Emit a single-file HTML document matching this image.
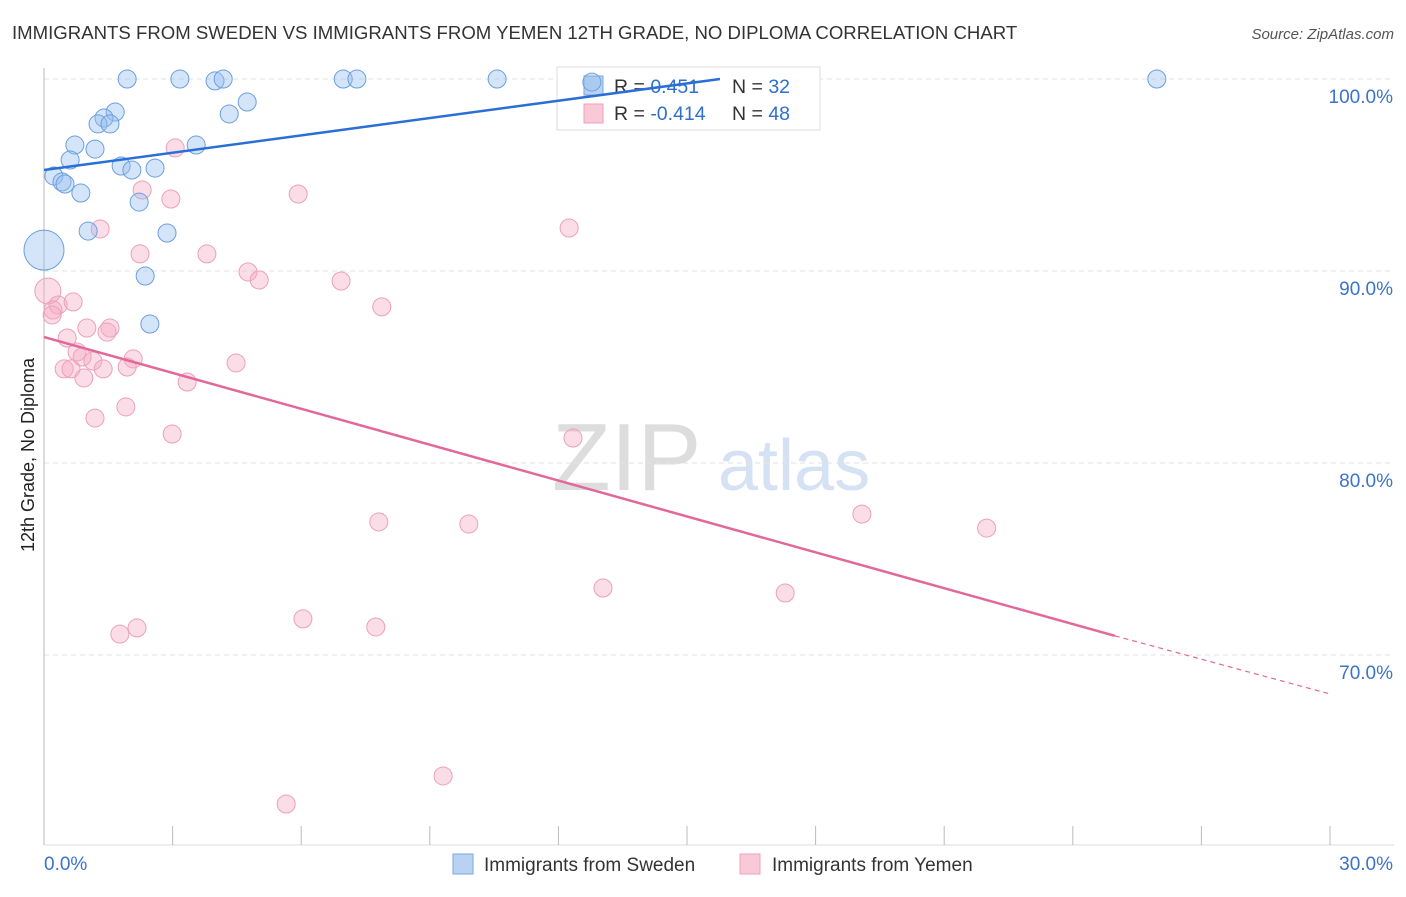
<!DOCTYPE html>
<html><head><meta charset="utf-8"><style>
body{margin:0;background:#fff;font-family:"Liberation Sans",sans-serif}
svg text{font-family:"Liberation Sans",sans-serif}
</style></head><body>
<svg id="c" width="1406" height="892">
<text x="12" y="39" font-size="18.6" fill="#333">IMMIGRANTS FROM SWEDEN VS IMMIGRANTS FROM YEMEN 12TH GRADE, NO DIPLOMA CORRELATION CHART</text>
<text x="1394" y="39" font-size="15" fill="#555" font-style="italic" text-anchor="end">Source: ZipAtlas.com</text>
<text transform="translate(34,455) rotate(-90)" font-size="18" fill="#222" text-anchor="middle">12th Grade, No Diploma</text>
<g><text x="552" y="490" font-size="96" fill="#ddd" font-family="Liberation Serif">ZIP</text><text x="718" y="490" font-size="72" fill="#d4e2f4">atlas</text></g>
<g id="grid"></g>
<g>
<rect x="557" y="67" width="263" height="63" fill="#fff" stroke="#ddd"/>
<rect x="584" y="76" width="19" height="19" fill="#b9d2f1" stroke="#7aa7e0"/>
<rect x="584" y="104" width="19" height="19" fill="#f9c9d7" stroke="#eba3ba"/>
<text x="614" y="93" font-size="19.5" fill="#333">R = <tspan fill="#2f6fd0"> 0.451</tspan><tspan x="732">N = </tspan><tspan fill="#2f6fd0">32</tspan></text>
<text x="614" y="120" font-size="19.5" fill="#333">R = <tspan fill="#2f6fd0">-0.414</tspan><tspan x="732">N = </tspan><tspan fill="#2f6fd0">48</tspan></text>
</g>
<g id="pts"></g><g id="lines"></g>
<g>
<rect x="453" y="854" width="20" height="20" fill="#b9d2f1" stroke="#7aa7e0"/>
<text x="484" y="871" font-size="19" fill="#333">Immigrants from Sweden</text>
<rect x="740" y="854" width="20" height="20" fill="#f9c9d7" stroke="#eba3ba"/>
<text x="772" y="871" font-size="19" fill="#333">Immigrants from Yemen</text>
</g>
</svg>
<script>
const xTicks=[0,30];
const yTicks=[100,90,80,70];
const swedenX=[1.94,3.17,3.99,4.18,6.98,7.30,10.57,25.96,12.78,4.74,4.32,1.66,1.40,1.26,1.54,0.72,1.19,3.55,0.61,1.80,2.05,2.59,0.23,0.42,0.49,0.86,2.22,1.03,2.87,2.36,2.47,0];
const swedenY=[100,100,99.9,100,100,100,100,100,99.84,98.8,98.18,98.28,97.97,97.66,97.66,96.56,96.35,96.56,95.78,95.47,95.26,95.36,94.95,94.64,94.53,94.06,93.59,92.08,91.98,89.74,87.24,91.09];
const yemenX=[3.06,2.29,2.96,5.93,12.25,1.31,2.24,3.80,4.76,5.02,6.93,7.88,0.09,0.33,0.68,0.21,0.19,1.00,1.54,1.47,0.54,0.77,0.89,1.14,2.08,0.47,0.63,1.38,1.94,4.48,0.93,3.34,1.91,1.19,2.99,12.34,7.81,9.91,19.08,21.99,13.04,17.29,6.04,7.74,2.17,1.77,9.31,5.65];
const yemenY=[96.41,94.22,93.75,94.01,92.24,92.19,90.89,90.89,89.95,89.53,89.48,88.13,88.96,88.23,88.39,87.97,87.71,87.03,87.03,86.82,86.51,85.78,85.52,85.31,85.42,84.90,84.90,84.90,85.0,85.21,84.43,84.22,82.92,82.34,81.51,81.30,76.93,76.82,77.34,76.61,73.49,73.23,71.88,71.46,71.41,71.09,63.70,62.24];
const swedenTrend=[[0,95.26],[15.77,100]];
const yemenTrend=[[0,86.56],[24.98,71.0],[30,67.97]];
const X=v=>44+v/30*1286, Y=v=>79+(100-v)*19.2;
const NS='http://www.w3.org/2000/svg';
function mk(t,a,p){const e=document.createElementNS(NS,t);for(const k in a)e.setAttribute(k,a[k]);p.appendChild(e);return e;}
const g=document.getElementById('grid');
yTicks.forEach(v=>{
 const l=mk('line',{x1:44,x2:1394,y1:Y(v),y2:Y(v),stroke:'#e2e2e2','stroke-dasharray':'5,4'},g);
 
 
 const t=mk('text',{x:1393,y:Y(v)+24,'font-size':19,fill:'#3b73c9','text-anchor':'end'},g);t.textContent=v.toFixed(1)+'%';
 
 
});
const ax=mk('line',{x1:44,x2:44,y1:68,y2:845,stroke:'#bbb'},g);


const bx=mk('line',{x1:44,x2:1394,y1:845,y2:845,stroke:'#ddd'},g);


for(let i=0;i<=10;i++){const tk=mk('line',{x1:X(i*3),x2:X(i*3),y1:826,y2:845,stroke:'#bbb'},g);
 
 }
xTicks.forEach((v,i)=>{const t=mk('text',{x:i?1393:44,y:870,'font-size':19,fill:'#3b73c9','text-anchor':i?'end':'start'},g);t.textContent=v.toFixed(1)+'%';
 
 });
const p=document.getElementById('pts');
yemenX.forEach((x,i)=>{const c=mk('circle',{cx:X(x),cy:Y(yemenY[i]),r:i==12?13:9,fill:'rgba(245,170,195,0.4)',stroke:'#eda0b8','stroke-width':1},p);
 
 });
swedenX.forEach((x,i)=>{const c=mk('circle',{cx:X(x),cy:Y(swedenY[i]),r:i==31?20:9,fill:'rgba(150,190,240,0.4)',stroke:'#6a9fe0','stroke-width':1},p);
 
 });
const L=document.getElementById('lines');
const b=mk('line',{x1:X(swedenTrend[0][0]),y1:Y(swedenTrend[0][1]),x2:X(swedenTrend[1][0]),y2:Y(swedenTrend[1][1]),stroke:'#2a6fd6','stroke-width':2.5},L);


const r1=mk('line',{x1:X(yemenTrend[0][0]),y1:Y(yemenTrend[0][1]),x2:X(yemenTrend[1][0]),y2:Y(yemenTrend[1][1]),stroke:'#e3689a','stroke-width':2.5},L);


const r2=mk('line',{x1:X(yemenTrend[1][0]),y1:Y(yemenTrend[1][1]),x2:X(yemenTrend[2][0]),y2:Y(yemenTrend[2][1]),stroke:'#e3689a','stroke-width':1.2,'stroke-dasharray':'5,4'},L);


</script>
</body></html>
